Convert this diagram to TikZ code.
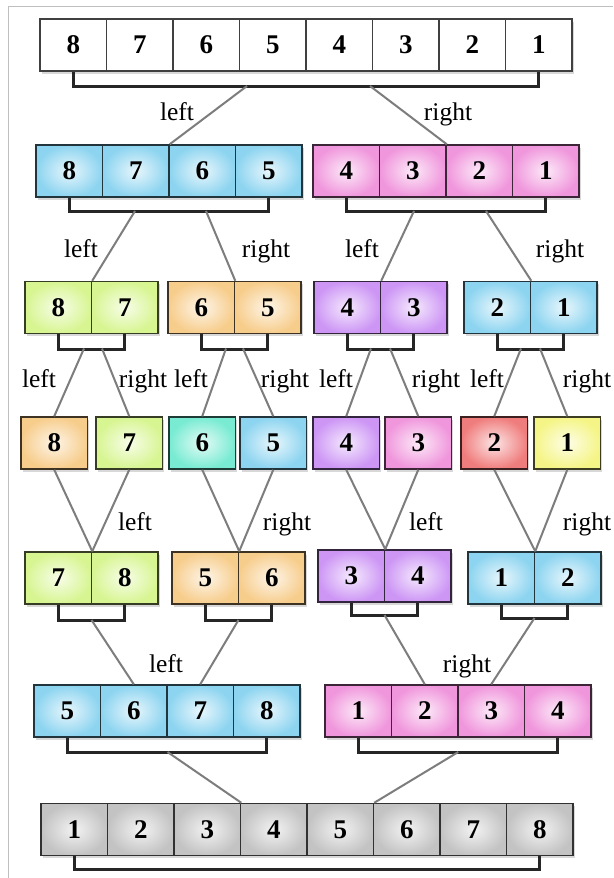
\documentclass[tikz,border=0pt]{standalone}
\usepackage{fontspec}
\setmainfont{Liberation Serif}
\usetikzlibrary{shadows,calc}
\definecolor{cCyan}{RGB}{140,212,240}
\definecolor{cPink}{RGB}{240,150,220}
\definecolor{cGreen}{RGB}{215,245,145}
\definecolor{cOrange}{RGB}{247,205,140}
\definecolor{cPurple}{RGB}{205,150,245}
\definecolor{cMint}{RGB}{120,235,210}
\definecolor{cRed}{RGB}{240,125,125}
\definecolor{cYellow}{RGB}{245,245,135}
\definecolor{cGray}{RGB}{195,195,195}
\definecolor{cLine}{RGB}{125,125,125}
\begin{document}
\begin{tikzpicture}[x=1pt,y=-1pt,
  cell/.style={draw=#1!25!black, line width=1.5pt, minimum width=66.5pt, minimum height=52pt,
    inner sep=0pt, inner color=#1!20, outer color=#1,
    drop shadow={shadow xshift=1.5pt,shadow yshift=-2.5pt,opacity=0.3},
    font=\bfseries\fontsize{27}{27}\selectfont},
  brk/.style={draw=black!85, line width=2.6pt},
  conn/.style={draw=cLine, line width=2pt},
  lbl/.style={anchor=base, inner sep=0pt, font=\fontsize{25.5}{25.5}\selectfont},
  frame/.style={draw=black!25, line width=1pt}]
\useasboundingbox (0,0) rectangle (613,878);
\fill[white] (0,0) rectangle (613,878);
\draw[frame] (8,878) -- (8,6) -- (613,6);

% row 1
\foreach \v [count=\i] in {8,7,6,5,4,3,2,1}
  \node[cell=white] (a\i) at ({40+33.25+(\i-1)*66.5},45) {\v};
% row 2
\foreach \v [count=\i] in {8,7,6,5}
  \node[cell=cCyan] (b\i) at ({36+33.25+(\i-1)*66.5},171) {\v};
\foreach \v [count=\i from 5] in {4,3,2,1}
  \node[cell=cPink] (b\i) at ({313+33.25+(\i-5)*66.5},171) {\v};
% row 3
\node[cell=cGreen]  (c1) at (58.25,307.5) {8};
\node[cell=cGreen]  (c2) at (124.75,307.5) {7};
\node[cell=cOrange] (c3) at (201.25,307.5) {6};
\node[cell=cOrange] (c4) at (267.75,307.5) {5};
\node[cell=cPurple] (c5) at (347.25,307.5) {4};
\node[cell=cPurple] (c6) at (413.75,307.5) {3};
\node[cell=cCyan]   (c7) at (497.25,307.5) {2};
\node[cell=cCyan]   (c8) at (563.75,307.5) {1};
% row 4
\node[cell=cOrange] (d1) at (54.25,443) {8};
\node[cell=cGreen]  (d2) at (129.25,443) {7};
\node[cell=cMint]   (d3) at (202.25,443) {6};
\node[cell=cCyan]   (d4) at (273.25,443) {5};
\node[cell=cPurple] (d5) at (346.25,443) {4};
\node[cell=cPink]   (d6) at (418.25,443) {3};
\node[cell=cRed]    (d7) at (494.25,443) {2};
\node[cell=cYellow] (d8) at (567.25,443) {1};
% row 5
\node[cell=cGreen]  (e1) at (58.25,578) {7};
\node[cell=cGreen]  (e2) at (124.75,578) {8};
\node[cell=cOrange] (e3) at (205.25,578) {5};
\node[cell=cOrange] (e4) at (271.75,578) {6};
\node[cell=cPurple] (e5) at (351.25,576) {3};
\node[cell=cPurple] (e6) at (417.75,576) {4};
\node[cell=cCyan]   (e7) at (501.25,578) {1};
\node[cell=cCyan]   (e8) at (567.75,578) {2};
% row 6
\foreach \v [count=\i] in {5,6,7,8}
  \node[cell=cCyan] (f\i) at ({34+33.25+(\i-1)*66.5},711) {\v};
\foreach \v [count=\i from 5] in {1,2,3,4}
  \node[cell=cPink] (f\i) at ({325+33.25+(\i-5)*66.5},711) {\v};
% row 7
\foreach \v [count=\i] in {1,2,3,4,5,6,7,8}
  \node[cell=cGray] (g\i) at ({41+33.25+(\i-1)*66.5},829.5) {\v};

% brackets
\draw[brk] (a1.south) -- ++(0,15) -| (a8.south);
\draw[brk] (b1.south) -- ++(0,14) -| (b4.south);
\draw[brk] (b5.south) -- ++(0,14) -| (b8.south);
\draw[brk] (c1.south) -- ++(0,15) -| (c2.south);
\draw[brk] (c3.south) -- ++(0,15) -| (c4.south);
\draw[brk] (c5.south) -- ++(0,15) -| (c6.south);
\draw[brk] (c7.south) -- ++(0,15) -| (c8.south);
\draw[brk] (e1.south) -- ++(0,16) -| (e2.south);
\draw[brk] (e3.south) -- ++(0,16) -| (e4.south);
\draw[brk] (e5.south) -- ++(0,13) -| (e6.south);
\draw[brk] (e7.south) -- ++(0,14) -| (e8.south);
\draw[brk] (f1.south) -- ++(0,15) -| (f4.south);
\draw[brk] (f5.south) -- ++(0,15) -| (f8.south);
\draw[brk] (g1.south) -- ++(0,13) -| (g8.south);

% junctions
\coordinate (j1l) at (247,86);
\coordinate (j1r) at (370,86);
\coordinate (j2a) at (135,211);
\coordinate (j2b) at (206,211);
\coordinate (j2c) at (414,211);
\coordinate (j2d) at (486,211);
\coordinate (j3a) at (84,348.5);
\coordinate (j3b) at (102,348.5);
\coordinate (j3c) at (226,348.5);
\coordinate (j3d) at (243,348.5);
\coordinate (j3e) at (371,348.5);
\coordinate (j3f) at (390,348.5);
\coordinate (j3g) at (521,348.5);
\coordinate (j3h) at (540,348.5);
\coordinate (j5a) at (91.5,620);
\coordinate (j5b) at (238.5,620);
\coordinate (j5c) at (384.5,615);
\coordinate (j5d) at (534.5,618);
\coordinate (j6a) at (167.5,752);
\coordinate (j6b) at (458.25,752);

% connectors
\draw[conn] (j1l) -- (b2.north east);
\draw[conn] (j1r) -- (b6.north east);
\draw[conn] (j2a) -- (c1.north east);
\draw[conn] (j2b) -- (c3.north east);
\draw[conn] (j2c) -- (c5.north east);
\draw[conn] (j2d) -- (c7.north east);
\draw[conn] (j3a) -- (d1.north);
\draw[conn] (j3b) -- (d2.north);
\draw[conn] (j3c) -- (d3.north);
\draw[conn] (j3d) -- (d4.north);
\draw[conn] (j3e) -- (d5.north);
\draw[conn] (j3f) -- (d6.north);
\draw[conn] (j3g) -- (d7.north);
\draw[conn] (j3h) -- (d8.north);
\draw[conn] (d1.south) -- (e1.north east);
\draw[conn] (d2.south) -- (e1.north east);
\draw[conn] (d3.south) -- (e3.north east);
\draw[conn] (d4.south) -- (e3.north east);
\draw[conn] (d5.south) -- (e5.north east);
\draw[conn] (d6.south) -- (e5.north east);
\draw[conn] (d7.south) -- (e7.north east);
\draw[conn] (d8.south) -- (e7.north east);
\draw[conn] (j5a) -- (f2.north);
\draw[conn] (j5b) -- (f3.north);
\draw[conn] (j5c) -- (f6.north);
\draw[conn] (j5d) -- (f7.north);
\draw[conn] (j6a) -- (g3.north east);
\draw[conn] (j6b) -- (g5.north east);

% labels
\node[lbl] (l1) at (177,120) {left};
\node[lbl] (l2) at (448,120) {right};
\node[lbl] (l3) at (81,257) {left};
\node[lbl] (l4) at (266,257) {right};
\node[lbl] (l5) at (362,257) {left};
\node[lbl] (l6) at (560,257) {right};
\node[lbl] (l7) at (39,387) {left};
\node[lbl] (l8) at (143,387) {right};
\node[lbl] (l9) at (191,387) {left};
\node[lbl] (l10) at (285,387) {right};
\node[lbl] (l11) at (336,387) {left};
\node[lbl] (l12) at (436,387) {right};
\node[lbl] (l13) at (487,387) {left};
\node[lbl] (l14) at (587,387) {right};
\node[lbl] (l15) at (135,530) {left};
\node[lbl] (l16) at (287,530) {right};
\node[lbl] (l17) at (426,530) {left};
\node[lbl] (l18) at (587,530) {right};
\node[lbl] (l19) at (166,672) {left};
\node[lbl] (l20) at (467,672) {right};
\end{tikzpicture}
\end{document}
